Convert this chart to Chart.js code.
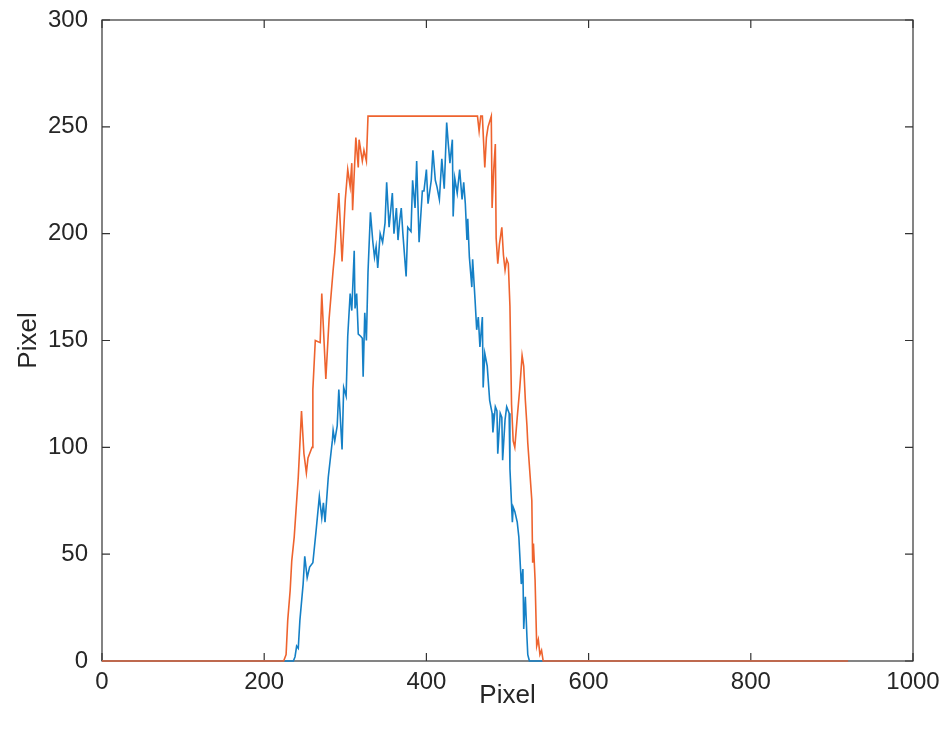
<!DOCTYPE html>
<html>
<head>
<meta charset="utf-8">
<script src="https://cdn.jsdelivr.net/npm/chart.js@4.4.1/dist/chart.umd.min.js"></script>
<style>
html,body{margin:0;padding:0;background:#fff;}
#wrap{width:949px;height:742px;}
</style>
</head>
<body>
<div id="wrap"><canvas id="c" width="949" height="742"></canvas></div>
<script>
// blue profile
const blueX=[0,236,238,240,242,244,248,250,253,256,260,264,268,271,273,275,279,284,285,287,290,292,296,298,301,303,306,308,311,312,314,316,319,321,322,324,326,328,331,334,336,338,340,343,346,349,351,354,358,360,363,365,367,369,371,375,377,381,383,386,388,391,395,397,400,402,406,408,411,413,416,419,422,425,427,429,432,433,435,438,441,444,446,448,450,451,453,456,457,460,462,464,466,469,470,472,475,478,481,482,485,487,488,491,493,494,497,499,502,503,506,507,509,512,514,517,519,520,522,524,525,527,920];
const blueY=[0,0,2,7,6,19,36,49,39,44,46,61,77,67,74,65,86,103,108,103,110,127,99,128,124,152,172,164,192,165,172,153,152,151,133,163,150,182,210,196,189,194,184,200,196,205,224,203,219,200,212,197,206,212,200,180,203,201,225,212,234,196,220,220,230,214,225,239,225,222,216,235,221,252,242,233,244,208,226,219,230,216,224,214,197,207,189,175,188,169,155,161,147,161,128,144,138,122,116,107,119,117,97,116,114,94,113,119,116,90,65,72,70,65,58,36,43,15,30,11,3,0,0];
// orange profile (saturates at 255)
const orangeX=[0,224,227,229,232,234,237,242,246,249,252,254,259,260,263,269,271,276,280,285,287,292,296,300,303,306,308,309,313,316,317,321,323,326,328,461,463,465,467,469,472,474,476,480,481,483,485,486,488,490,493,495,497,499,501,503,505,507,509,512,515,518,520,522,524,525,528,530,531,532,534,536,538,540,542,544,920];
const orangeY=[0,0,3,19,33,47,58,86,117,97,88,95,100,127,150,149,172,132,160,183,191,219,187,216,230,222,233,211,245,231,244,234,239,234,255,255,255,248,255,255,231,245,250,255,212,230,242,198,186,195,203,190,183,188,186,166,120,103,100,114,127,143,138,122,110,102,86,75,46,55,38,7,10,3,5,0,0];
const xTicks=[0,200,400,600,800,1000];
const yTicks=[0,50,100,150,200,250,300];

const toPts=(xs,ys)=>xs.map((v,i)=>({x:v,y:ys[i]}));
const txt='#262626';
const font='"Liberation Sans", Arial, sans-serif';

// matlab style box with inward ticks
const boxPlugin={
  id:'box',
  beforeDatasetsDraw(chart){
    const {ctx,chartArea:a,scales:{x,y}}=chart;
    ctx.save();
    ctx.strokeStyle='#333';
    ctx.lineWidth=1.2;
    ctx.strokeRect(a.left,a.top,a.right-a.left,a.bottom-a.top);
    const L=8;
    ctx.beginPath();
    xTicks.forEach(v=>{
      const p=x.getPixelForValue(v);
      ctx.moveTo(p,a.bottom);ctx.lineTo(p,a.bottom-L);
      ctx.moveTo(p,a.top);ctx.lineTo(p,a.top+L);
    });
    yTicks.forEach(v=>{
      const p=y.getPixelForValue(v);
      ctx.moveTo(a.left,p);ctx.lineTo(a.left+L,p);
      ctx.moveTo(a.right,p);ctx.lineTo(a.right-L,p);
    });
    ctx.stroke();
    ctx.restore();
  }
};

new Chart(document.getElementById('c'),{
  type:'line',
  data:{datasets:[
    {label:'blue',data:toPts(blueX,blueY),borderColor:'#1580C6',borderWidth:1.6,pointRadius:0,tension:0,clip:6,order:1},
    {label:'orange',data:toPts(orangeX,orangeY),borderColor:'#EE632E',borderWidth:1.6,pointRadius:0,tension:0,clip:6,order:0}
  ]},
  options:{
    responsive:false,
    animation:false,
    layout:{padding:{top:20,right:36,left:0,bottom:0}},
    plugins:{legend:{display:false},tooltip:{enabled:false}},
    scales:{
      x:{type:'linear',min:0,max:1000,
        afterBuildTicks:s=>{s.ticks=xTicks.map(v=>({value:v}));},
        afterFit:s=>{s.height=81;s.paddingLeft=0;s.paddingRight=0;},
        grid:{display:false,tickLength:0},border:{display:false},
        ticks:{color:txt,font:{family:font,size:24},padding:7,maxRotation:0,callback:v=>String(v)},
        title:{display:true,text:'Pixel',color:txt,font:{family:font,size:26},padding:{top:0,bottom:31}}
      },
      y:{min:0,max:300,
        afterBuildTicks:s=>{s.ticks=yTicks.map(v=>({value:v}));},
        afterFit:s=>{s.width=102;s.paddingTop=0;s.paddingBottom=0;},
        grid:{display:false,tickLength:0},border:{display:false},
        ticks:{color:txt,font:{family:font,size:24},padding:14,callback:v=>String(v)},
        title:{display:true,text:'Pixel',color:txt,font:{family:font,size:26},padding:{top:13,bottom:0}}
      }
    }
  },
  plugins:[boxPlugin]
});
</script>
</body>
</html>
